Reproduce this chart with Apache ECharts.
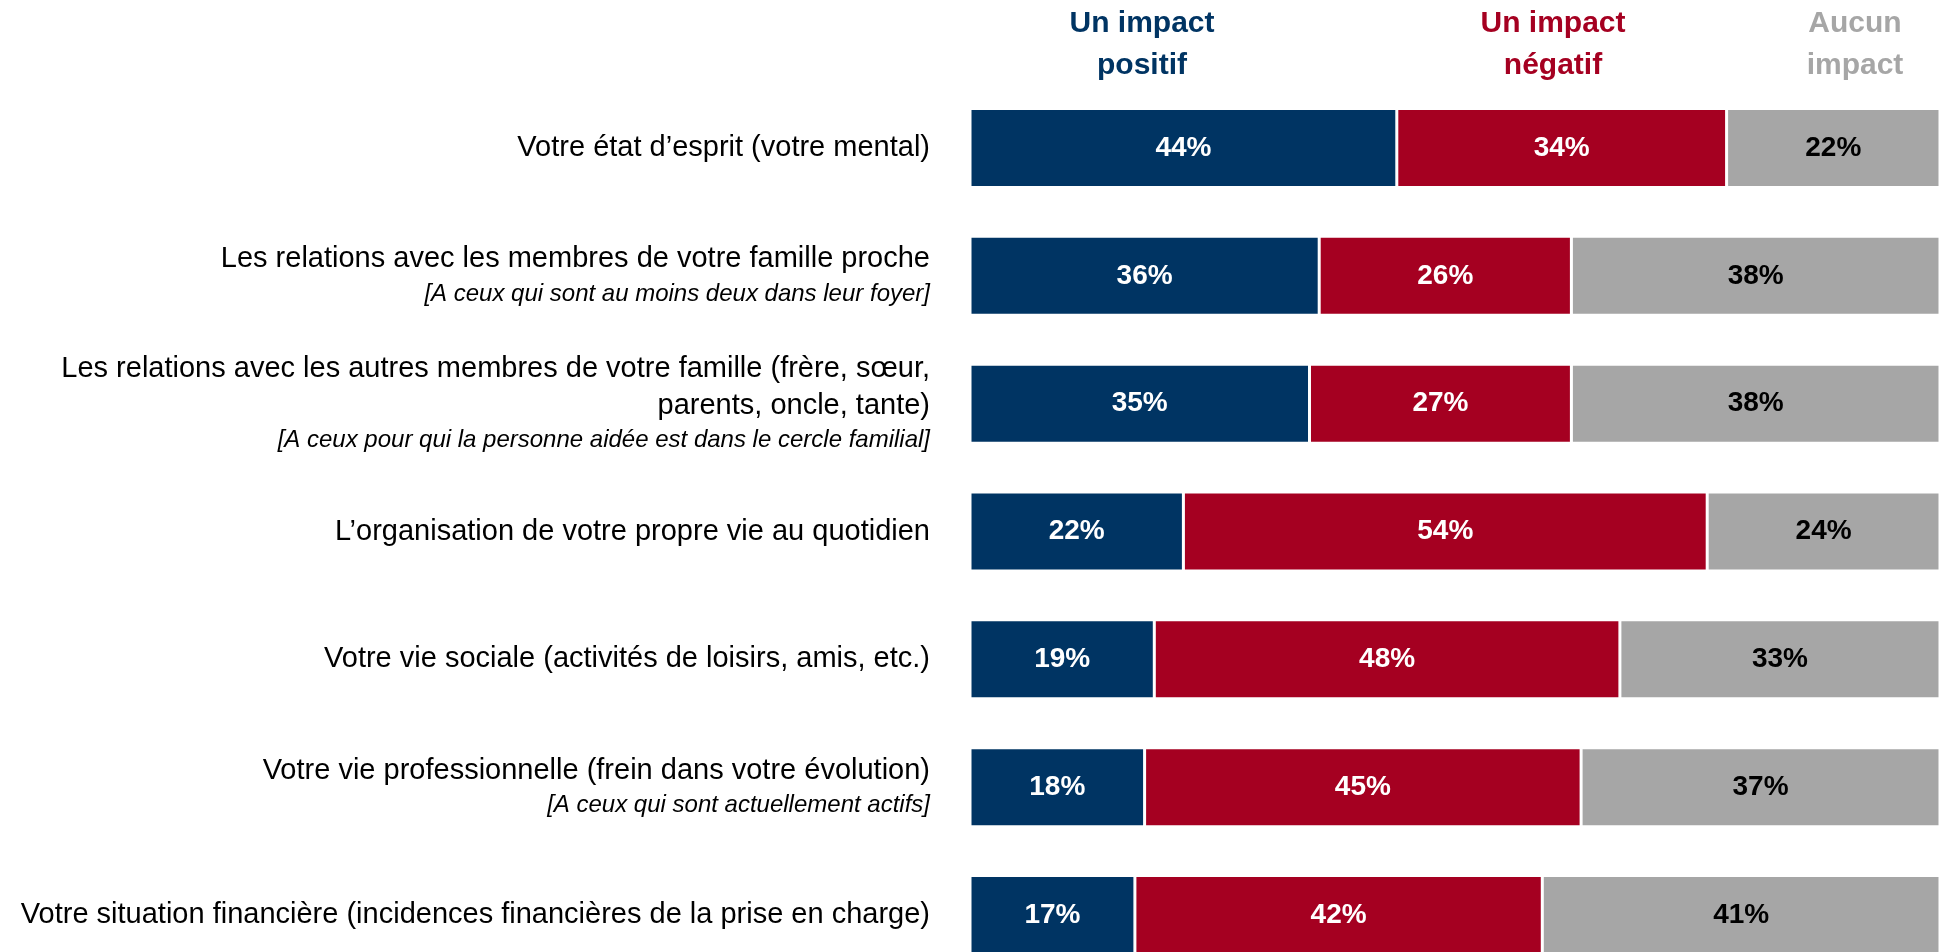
<!DOCTYPE html>
<html>
<head>
<meta charset="utf-8">
<script src="https://cdn.jsdelivr.net/npm/echarts@6/dist/echarts.min.js"></script>
<style>
  html, body { margin: 0; padding: 0; background: #fff; }
  #chart { width: 1944px; height: 952px; }
</style>
</head>
<body>
<div id="chart"></div>
<script>
const categories = [
  "Votre état d’esprit (votre mental)",
  "Les relations avec les membres de votre famille proche\n{i|[A ceux qui sont au moins deux dans leur foyer]}",
  "Les relations avec les autres membres de votre famille (frère, sœur,\nparents, oncle, tante)\n{i|[A ceux pour qui la personne aidée est dans le cercle familial]}",
  "L’organisation de votre propre vie au quotidien",
  "Votre vie sociale (activités de loisirs, amis, etc.)",
  "Votre vie professionnelle (frein dans votre évolution)\n{i|[A ceux qui sont actuellement actifs]}",
  "Votre situation financière (incidences financières de la prise en charge)"
];
const positif = [44, 36, 35, 22, 19, 18, 17];
const negatif = [34, 26, 27, 54, 48, 45, 42];
const aucun = [22, 38, 38, 24, 33, 37, 41];
const seriesNames = ["Un impact\npositif", "Un impact\nnégatif", "Aucun\nimpact"];
const colors = ["#003463", "#A50021", "#A6A6A6"];

const font = "'Liberation Sans Narrow', 'Liberation Sans', sans-serif";

let myChart = echarts.init(document.getElementById('chart'));

function makeSeries(name, data, color, labelColor) {
  return {
    name: name,
    type: 'bar',
    stack: 'total',
    barWidth: 79,
    data: data,
    itemStyle: { color: color, borderColor: '#fff', borderWidth: 1.5 },
    label: {
      show: true,
      position: 'inside',
      formatter: '{c}%',
      color: labelColor,
      fontFamily: font,
      fontWeight: 'bold',
      fontSize: 28
    },
    emphasis: { disabled: true }
  };
}

function header(text, x, color) {
  return {
    type: 'text', x: x, y: 3,
    style: {
      text: text, fill: color, font: "bold 30px " + font,
      align: 'center', verticalAlign: 'top', lineHeight: 42
    }
  };
}

let option = {
  animation: false,
  grid: { left: 970, right: 4, top: 84, height: 895, outerBoundsMode: 'none' },
  xAxis: { type: 'value', min: 0, max: 100, show: false },
  yAxis: {
    type: 'category',
    inverse: true,
    data: categories,
    axisLine: { show: false },
    axisTick: { show: false },
    axisLabel: {
      margin: 40,
      align: 'right',
      color: '#000',
      fontFamily: font,
      fontSize: 29,
      lineHeight: 37,
      rich: {
        i: { fontFamily: font, fontStyle: 'italic', fontSize: 24, lineHeight: 33, color: '#000' }
      }
    }
  },
  graphic: [
    header(seriesNames[0], 1142, colors[0]),
    header(seriesNames[1], 1553, colors[1]),
    header(seriesNames[2], 1855, colors[2])
  ],
  series: [
    makeSeries(seriesNames[0], positif, colors[0], '#fff'),
    makeSeries(seriesNames[1], negatif, colors[1], '#fff'),
    makeSeries(seriesNames[2], aucun, colors[2], '#000')
  ]
};

option && myChart.setOption(option);
</script>
</body>
</html>
